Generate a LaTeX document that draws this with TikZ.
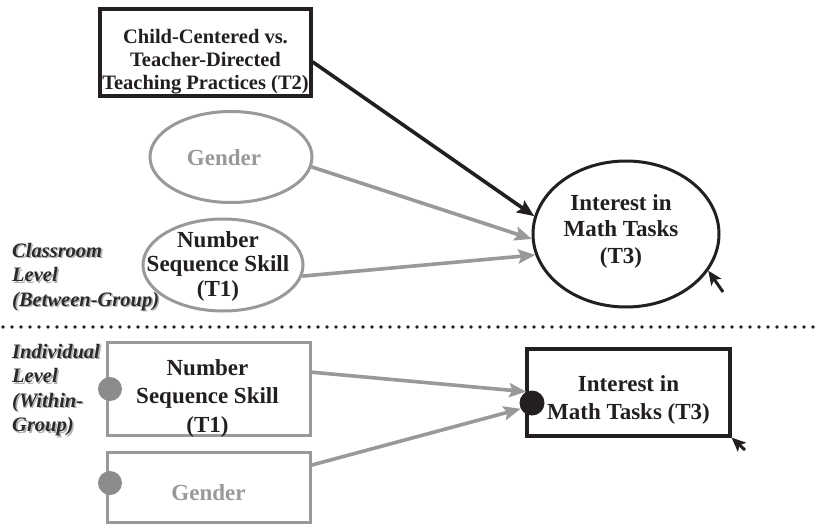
\documentclass[tikz,border=0pt]{standalone}
\usepackage{fontspec}
\setmainfont{Liberation Serif}
\usetikzlibrary{arrows.meta,shapes.geometric}

\definecolor{ink}{HTML}{231F20}
\definecolor{linegray}{HTML}{999999}
\definecolor{dotgray}{HTML}{8C8C8D}
\definecolor{labelink}{HTML}{2A2A2A}
\definecolor{shadowgray}{HTML}{B0B0B0}

\tikzset{
  blackbox/.style={rectangle, draw=ink, line width=3.2pt, inner sep=0pt},
  graybox/.style={rectangle, draw=linegray, line width=3pt, inner sep=0pt},
  blackoval/.style={ellipse, draw=ink, line width=3pt, inner sep=0pt},
  grayoval/.style={ellipse, draw=linegray, line width=3pt, inner sep=0pt},
  txt/.style 2 args={font=\fontsize{#1}{#2}\selectfont\bfseries, text=ink,
    align=center, inner sep=0pt},
  lvl/.style={font=\fontsize{20.5}{24.6}\selectfont\bfseries\itshape,
    align=left, anchor=west, inner sep=0pt, text=labelink},
  lvlshadow/.style={lvl, text=shadowgray},
  arr/.style={line width=3.6pt, -{Stealth[length=17pt,width=14pt,inset=3pt]}},
  resid/.style={line width=3pt, draw=ink, -{Stealth[length=14pt,width=12pt,inset=3pt]}},
  dotline/.style={draw=ink, line width=3.6pt, line cap=round, dash pattern=on 0pt off 9pt},
  pin/.style={circle, inner sep=0pt, minimum size=24pt}
}

\begin{document}
\begin{tikzpicture}[x=1pt,y=-1pt]
\path[use as bounding box, fill=white] (0,0) rectangle (820,525);

% ---------- between-group (classroom) level ----------
\node[blackbox, minimum width=211pt, minimum height=87pt] (t2) at (205.5,52.5) {};
\node[txt={20.5}{23}] (t2text) at (205.5,61.4)
  {Child-Centered vs.\\Teacher-Directed\\Teaching Practices (T2)};

\node[grayoval, minimum width=162pt, minimum height=91pt] (gen) at (231,157) {};
\node[txt={23}{25}, text=linegray] (gentext) at (224,157.3) {Gender};

\node[grayoval, minimum width=160pt, minimum height=92pt] (nss) at (223,265) {};
\node[txt={23}{24.5}] (nsstext) at (218,266) {Number\\Sequence Skill\\(T1)};

\node[blackoval, minimum width=186pt, minimum height=146pt] (int) at (626,234) {};
\node[txt={23}{26.5}] (inttext) at (621,231) {Interest in\\Math Tasks\\(T3)};

\draw[arr, ink] (t2.-5) -- (int.169.6);
\draw[arr, linegray] (gen.-7.9) -- (int.183.7);
\draw[arr, linegray] (nss.-8.5) -- (int.193.9);

\coordinate (residA) at (723,292);
\draw[resid] (residA) -- (int.-24);

\node[lvlshadow] (clsshadow) at (13.6,278.4) {Classroom\\Level\\(Between-Group)};
\node[lvl] (cls) at (12,276.8) {Classroom\\Level\\(Between-Group)};

% ---------- level separator ----------
\coordinate (divL) at (3,327);
\coordinate (divR) at (820,327);
\draw[dotline] (divL) -- (divR);

% ---------- within-group (individual) level ----------
\node[lvlshadow] (indshadow) at (13.6,391.6) {Individual\\Level\\(Within-\\Group)};
\node[lvl] (ind) at (12,390) {Individual\\Level\\(Within-\\Group)};

\node[graybox, minimum width=203pt, minimum height=93pt] (nssb) at (208.5,388.5) {};
\node[txt={23}{28.5}] (nssbtext) at (207.5,398) {Number\\Sequence Skill\\(T1)};

\node[graybox, minimum width=203pt, minimum height=70pt] (genb) at (208.5,487) {};
\node[txt={23}{25}, text=linegray] (genbtext) at (208.5,492.3) {Gender};

\node[blackbox, minimum width=203pt, minimum height=87pt] (intb) at (628.5,392.5) {};
\node[txt={23}{28}] (intbtext) at (628.5,399.5) {Interest in\\Math Tasks (T3)};

\node[pin, fill=dotgray] (dotn) at (110,389) {};
\node[pin, fill=dotgray] (dotg) at (110,483) {};
\node[pin, fill=ink, minimum size=25pt] (dotb) at (532,403) {};

\draw[arr, linegray] (nssb.9.2) -- (dotb.117);
\draw[arr, linegray] (genb.12.2) -- (dotb.207);

\coordinate (residB) at (745,450);
\draw[resid] (residB) -- (intb.south east);
\end{tikzpicture}
\end{document}
